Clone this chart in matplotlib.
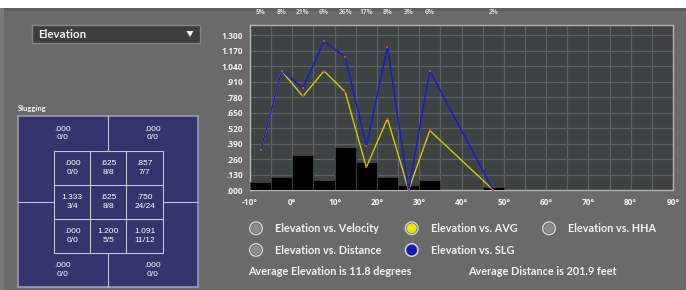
import matplotlib
matplotlib.use("Agg")
import matplotlib.pyplot as plt
from matplotlib.patches import Rectangle, Circle, Polygon
from matplotlib.ticker import FuncFormatter, MultipleLocator
import matplotlib.transforms as mtransforms

# ---------------- data ----------------
bin_centers = [-7.5, -2.5, 2.5, 7.5, 12.5, 17.5, 22.5, 27.5, 32.5, 47.5]
pct_labels = ["5%", "8%", "21%", "6%", "26%", "17%", "8%", "3%", "6%", "2%"]
pct_values = [5, 8, 21, 6, 26, 17, 8, 3, 6, 2]
slg_values = [0.333, 1.0, 0.857, 1.25, 1.118, 0.368, 1.2, 0.0, 1.0, 0.0]
avg_values = [0.333, 1.0, 0.786, 1.0, 0.824, 0.19, 0.6, 0.0, 0.5, 0.0]
y_ticks = [0.0, 0.13, 0.26, 0.39, 0.52, 0.65, 0.78, 0.91, 1.04, 1.17, 1.30]
x_ticks = [-10, 0, 10, 20, 30, 40, 50, 60, 70, 80, 90]

zone_inner = [[".000\n0/0", ".625\n8/8", ".857\n7/7"],
              ["1.333\n3/4", ".625\n8/8", ".750\n24/24"],
              [".000\n0/0", "1.200\n5/5", "1.091\n11/12"]]
zone_outer = [".000\n0/0", ".000\n0/0", ".000\n0/0", ".000\n0/0"]  # TL, TR, BL, BR
zone_title = "Slugging"
dropdown_text = "Elevation"
legend_items = [("Elevation vs. Velocity", "gray"), ("Elevation vs. AVG", "yellow"),
                ("Elevation vs. HHA", "gray"), ("Elevation vs. Distance", "gray"),
                ("Elevation vs. SLG", "blue")]
summary_left = "Average Elevation is 11.8 degrees"
summary_right = "Average Distance is 201.9 feet"

# ---------------- style ----------------
BG = "#6a6a6a"
PLOT_BG = "#3d4242"
GRID = "#5d6262"
TXT = "#f2f2f2"
FONT = ["Lato", "DejaVu Sans"]
TICKFONT = ["Open Sans", "DejaVu Sans"]
plt.rcParams['font.family'] = FONT

W, H = 686, 290
fig = plt.figure(figsize=(W / 100, H / 100), dpi=100, facecolor="white")

# background axes in pixel coordinates
bg = fig.add_axes([0, 0, 1, 1])
bg.set_xlim(0, W)
bg.set_ylim(H, 0)
bg.axis("off")
bg.add_patch(Rectangle((0, 8), 4, H - 8, facecolor="#7a7a7a", edgecolor="none"))
bg.add_patch(Rectangle((4, 8), W - 4, H - 8, facecolor=BG, edgecolor="none"))
bg.add_patch(Rectangle((4, 8), W - 4, 3, facecolor="#5e5e5e", edgecolor="none"))

# dropdown
bg.add_patch(Rectangle((32, 24.7), 168, 18.3, facecolor="#3b3f3f", edgecolor="#858585", lw=1))
bg.text(38, 34, dropdown_text, color=TXT, fontsize=8.3, fontweight="bold", va="center", ha="left")
bg.add_patch(Polygon([[186.5, 31], [193.5, 31], [190, 37]], closed=True, facecolor=TXT, edgecolor="none"))

# strike zone panel
L, R, T, B = 18, 198, 116, 286.7
IL, IR, IT, IB = 54, 162.7, 150.7, 253.3
ZC = "#34346e"
LC = "#c4c4d4"
bg.text(18, 109, zone_title, color=TXT, fontsize=5.5, fontweight="bold", va="center", ha="left")
bg.add_patch(Rectangle((L, T), R - L, B - T, facecolor=ZC, edgecolor="#9c9cb0", lw=1.2))
midx = (L + R) / 2
midy = (IT + IB) / 2
bg.plot([midx, midx], [T, IT], color=LC, lw=0.8)
bg.plot([midx, midx], [IB, B], color=LC, lw=0.8)
bg.plot([L, IL], [midy, midy], color=LC, lw=0.8)
bg.plot([IR, R], [midy, midy], color=LC, lw=0.8)
bg.add_patch(Rectangle((IL, IT), IR - IL, IB - IT, facecolor="none", edgecolor=LC, lw=0.8))
cw = (IR - IL) / 3
ch = (IB - IT) / 3
for i in (1, 2):
    bg.plot([IL + i * cw] * 2, [IT, IB], color=LC, lw=0.8)
    bg.plot([IL, IR], [IT + i * ch] * 2, color=LC, lw=0.8)
zfont = ["Liberation Sans", "DejaVu Sans"]
for r in range(3):
    for c in range(3):
        bg.text(IL + (c + 0.5) * cw, IT + (r + 0.5) * ch, zone_inner[r][c], color="white",
                fontsize=6, ha="center", va="center", family=zfont, linespacing=1.3)
outer_pos = [((L + midx) / 2, (T + IT) / 2), ((midx + R) / 2, (T + IT) / 2),
             ((L + midx) / 2, (IB + B) / 2), ((midx + R) / 2, (IB + B) / 2)]
for (px, py), s in zip(outer_pos, zone_outer):
    bg.text(px, py, s, color="white", fontsize=6, ha="center", va="center",
            family=zfont, linespacing=1.3)

# legend radio buttons
col_x = [256, 411.7, 549]
row_y = [228.3, 250]
fills = {"gray": "#8c8c8c", "yellow": "#e8e800", "blue": "#1414c8"}
positions = [(0, 0), (1, 0), (2, 0), (0, 1), (1, 1)]
for (label, kind), (ci, ri) in zip(legend_items, positions):
    cx, cy = col_x[ci], row_y[ri]
    bg.add_patch(Circle((cx, cy), 6.3, facecolor="#555555", edgecolor="#d8d8d8", lw=1.0))
    bg.add_patch(Circle((cx, cy), 5.0, facecolor=fills[kind], edgecolor="none"))
    bg.text(cx + 19, cy, label, color=TXT, fontsize=7.8, fontweight="bold", ha="left", va="center")
bg.text(248, 271.7, summary_left, color=TXT, fontsize=7.8, fontweight="bold", ha="left", va="center")
bg.text(468, 271.7, summary_right, color=TXT, fontsize=7.8, fontweight="bold", ha="left", va="center")

# ---------------- chart ----------------
pl, pr, pt, pb = 250, 673, 24.5, 190
ax = fig.add_axes([pl / W, 1 - pb / H, (pr - pl) / W, (pb - pt) / H])
ax.set_facecolor(PLOT_BG)
ax.set_xlim(-10, 90)
ax.set_ylim(0, 1.39)
ax.xaxis.set_minor_locator(MultipleLocator(5))
ax.set_xticks(x_ticks)
ax.set_yticks(y_ticks)
ax.grid(True, which="both", color=GRID, lw=0.9)
ax.set_axisbelow(True)


def yfmt(v, p):
    s = f"{v:.3f}"
    return s[1:] if s.startswith("0") else s


ax.yaxis.set_major_formatter(FuncFormatter(yfmt))
ax.xaxis.set_major_formatter(FuncFormatter(lambda v, p: f"{int(v)}°"))
ax.tick_params(axis="both", which="both", length=0, colors=TXT, labelsize=6)
ax.tick_params(axis="x", pad=6)
ax.tick_params(axis="y", pad=5)
for lab in ax.get_xticklabels() + ax.get_yticklabels():
    lab.set_fontweight("bold")
    lab.set_family(TICKFONT)
for sp in ax.spines.values():
    sp.set_color("#b4b4b4")
    sp.set_linewidth(1.0)

# bars on a hidden percentage axis
axb = ax.twinx()
axb.set_ylim(0, 100)
axb.set_yticks([])
for sp in axb.spines.values():
    sp.set_visible(False)
axb.bar(bin_centers, pct_values, width=5, color="black", edgecolor=PLOT_BG, lw=0.6, zorder=2)

# lines on top
axl = ax.twinx()
axl.set_ylim(0, 1.39)
axl.set_yticks([])
for sp in axl.spines.values():
    sp.set_visible(False)
axl.plot(bin_centers, avg_values, color="#d8c800", lw=1.0, zorder=3)
axl.plot(bin_centers, slg_values, color="#1a1ad0", lw=1.1, zorder=4)
axl.scatter(bin_centers, avg_values, s=3, marker="s", color="#d84040", zorder=5, lw=0)
axl.scatter(bin_centers, slg_values, s=3, marker="s", color="#d84040", zorder=5, lw=0)

# percentage labels above plot
trans = mtransforms.blended_transform_factory(ax.transData, ax.transAxes)
for xc, s in zip(bin_centers, pct_labels):
    ax.text(xc, (pb - 13) / (pb - pt), s, transform=trans, color="#d8d8d8",
            fontsize=4.8, fontweight="bold", ha="center", va="center", family=TICKFONT)

fig.savefig("out.png", dpi=100, facecolor=fig.get_facecolor())
